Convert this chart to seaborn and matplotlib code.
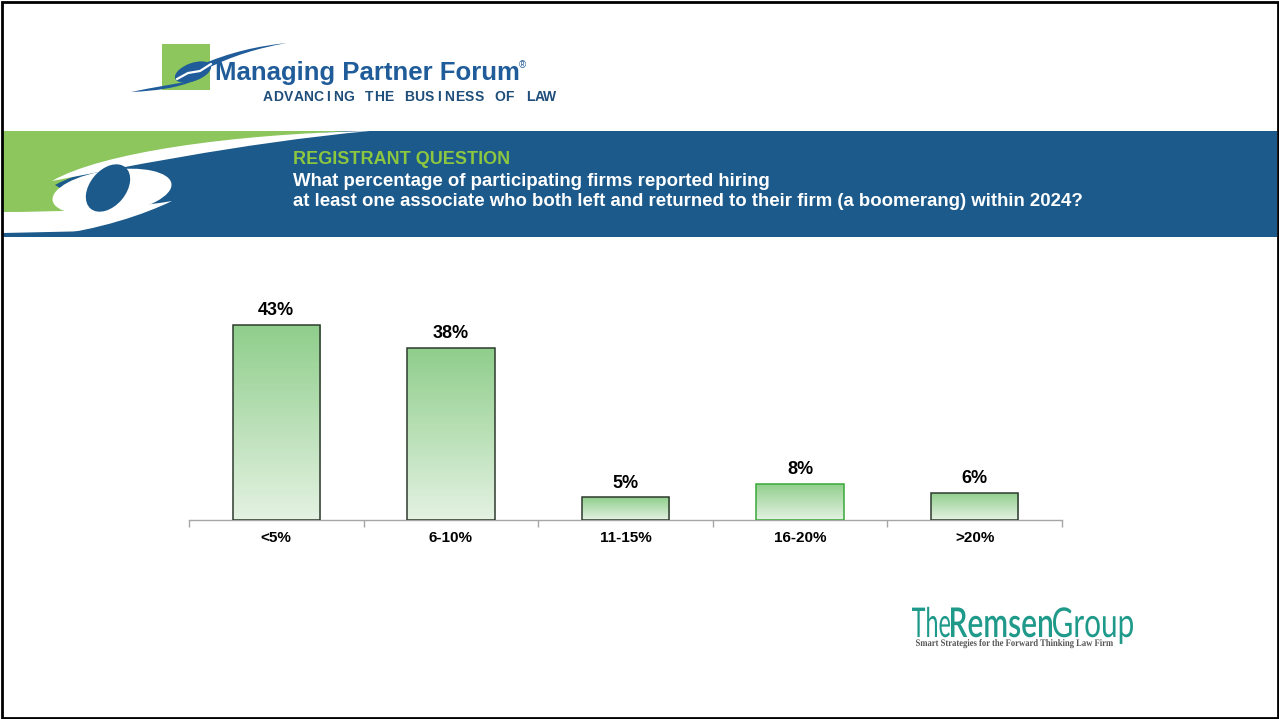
"""Registrant question slide: share of firms hiring boomerang associates in 2024."""

import matplotlib
matplotlib.use("Agg")
import matplotlib.pyplot as plt
import numpy as np
import seaborn as sns
from matplotlib.colors import LinearSegmentedColormap
from matplotlib.font_manager import FontProperties
from matplotlib.patches import Ellipse, PathPatch, Rectangle
from matplotlib.path import Path
from matplotlib.textpath import TextPath
from matplotlib.transforms import Affine2D

# ---- data -------------------------------------------------------------
categories = ["<5%", "6-10%", "11-15%", "16-20%", ">20%"]
values = [43, 38, 5, 8, 6]

header_kicker = "REGISTRANT QUESTION"
question_lines = [
    "What percentage of participating firms reported hiring",
    "at least one associate who both left and returned to their firm (a boomerang) within 2024?",
]

# ---- style ------------------------------------------------------------
sns.set_theme(style="white")
plt.rcParams["font.family"] = ["Liberation Sans", "DejaVu Sans"]

BLUE = "#1b5a8b"
LOGO_BLUE = "#1f5c99"
GREEN = "#8cc65c"
KICKER_GREEN = "#8dc63f"
TEAL = "#1f9a8a"
BAR_CMAP = LinearSegmentedColormap.from_list("bar", ["#e4f2e2", "#8fce8b"])
BAR_EDGES = ["#2f3a2f", "#2f3a2f", "#2f3a2f", "#3aa83a", "#2f3a2f"]

W, H = 1279, 719
fig = plt.figure(figsize=(W / 100, H / 100), dpi=100)

# background layer in pixel coordinates (y down)
bg = fig.add_axes([0, 0, 1, 1], zorder=0)
bg.set_xlim(0, W); bg.set_ylim(H, 0); bg.axis("off")


def curve_patch(verts, codes, color, z=1):
    bg.add_patch(PathPatch(Path(verts, codes), facecolor=color, edgecolor="none", zorder=z))


def path_text(s, x, baseline, size_px, width_px, color, prop, z=3):
    tp = TextPath((0, 0), s, size=1, prop=prop)
    ext = tp.get_extents()
    sx = width_px / ext.width
    tr = Affine2D().scale(sx, -size_px).translate(x - ext.x0 * sx, baseline)
    bg.add_patch(PathPatch(tr.transform_path(tp), facecolor=color, edgecolor="none", zorder=z))


M, L, C, X = Path.MOVETO, Path.LINETO, Path.CURVE4, Path.CLOSEPOLY

# ---- top logo ---------------------------------------------------------
bg.add_patch(Rectangle((162, 44), 48, 46, facecolor=GREEN, edgecolor="none", zorder=1))
curve_patch([(131, 92), (155, 87), (175, 84), (196, 80), (178, 88), (155, 91), (131, 92), (131, 92)],
            [M, C, C, C, C, C, C, X], LOGO_BLUE, 2)
bg.add_patch(Ellipse((193, 72), 38, 18, angle=-20, facecolor=LOGO_BLUE, edgecolor="none", zorder=2))
bg.plot([177, 188, 200, 211], [79, 73, 71, 64], color="white", lw=1.6, zorder=2.5)
curve_patch([(198, 66), (230, 52), (258, 46), (287, 43), (258, 48), (232, 56), (206, 69), (198, 66)],
            [M, C, C, C, C, C, C, X], LOGO_BLUE, 2)
bg.text(215, 80, "Managing Partner Forum", color=LOGO_BLUE, fontsize=18.5,
        fontweight="bold", va="baseline", ha="left", zorder=3)
bg.text(519, 68, "®", color=LOGO_BLUE, fontsize=7, va="baseline", ha="left", zorder=3)
tagline = "ADVANCING THE BUSINESS OF LAW"
step = (550 - 268) / (len(tagline) - 1)
for i, ch in enumerate(tagline):
    bg.text(268 + i * step, 101, ch, color="#1f4e7a", fontsize=10, fontweight="bold",
            ha="center", va="baseline", zorder=3)

# ---- banner -----------------------------------------------------------
bg.add_patch(Rectangle((3, 131), 1274, 106, facecolor=BLUE, edgecolor="none", zorder=1))
curve_patch([(3, 131), (350, 131), (225, 138), (100, 160), (55, 185), (100, 212), (3, 214), (3, 131)],
            [M, L, C, C, C, L, L, X], GREEN, 1.2)
curve_patch([(370, 131), (230, 134), (100, 153), (52, 181), (110, 170), (240, 143), (370, 131), (370, 131)],
            [M, C, C, C, C, C, C, X], "white", 1.4)
bg.add_patch(Ellipse((112, 192), 120, 44, angle=-8, facecolor="white", edgecolor="none", zorder=1.4))
curve_patch([(172, 201), (120, 210), (50, 212), (3, 212), (3, 237), (40, 237), (100, 230),
             (145, 214), (172, 201), (172, 201)],
            [M, C, C, C, L, L, C, C, C, X], "white", 1.4)
bg.add_patch(Ellipse((108, 188), 54, 36, angle=-50, facecolor=BLUE, edgecolor="none", zorder=1.5))
curve_patch([(3, 237), (3, 233), (60, 232), (140, 228), (230, 237), (3, 237)],
            [M, L, C, C, C, X], BLUE, 1.45)

bg.text(293, 160, header_kicker, color=KICKER_GREEN, fontsize=13, fontweight="bold",
        va="center", ha="left", zorder=3)
for i, line in enumerate(question_lines):
    bg.text(293, 181 + 20 * i, line, color="white", fontsize=13.4, fontweight="bold",
            va="center", ha="left", zorder=3)

# ---- bottom-right logo ------------------------------------------------
thin = FontProperties(family=["Lato", "DejaVu Sans"], weight="normal")
bold = FontProperties(family=["Lato", "DejaVu Sans"], weight="semibold")
path_text("The", 912, 637, 41, 38, TEAL, thin)
path_text("Remsen", 951, 637, 41, 101, TEAL, bold)
path_text("Group", 1053, 637, 41, 80, TEAL, thin)
path_text("Smart Strategies for the Forward Thinking Law Firm", 916, 646, 10, 197, "#555555",
          FontProperties(family=["Liberation Serif", "DejaVu Serif"], weight="bold"))

# frame
bg.add_patch(Rectangle((1.5, 1.5), W - 3, H - 3, facecolor="none", edgecolor="black", lw=2, zorder=5))

# ---- bar chart --------------------------------------------------------
ax = fig.add_axes([189 / W, 1 - 520 / H, (1062 - 189) / W, 250 / H], zorder=2)
ax.patch.set_alpha(0)
sns.barplot(x=categories, y=values, width=0.5, color="#8fce8b", ax=ax, zorder=2)

grad = np.linspace(0, 1, 256).reshape(-1, 1)
for patch, v, ec in zip(ax.patches, values, BAR_EDGES):
    x0, w = patch.get_x(), patch.get_width()
    im = ax.imshow(grad, extent=[x0, x0 + w, 0, patch.get_height()], origin="lower",
                   cmap=BAR_CMAP, aspect="auto", zorder=2)
    im.set_clip_path(patch)
    patch.set_facecolor("none")
    patch.set_edgecolor(ec)
    patch.set_linewidth(1.1)
    patch.set_zorder(3)

for i, v in enumerate(values):
    ax.annotate(f"{v}%", (i, v), xytext=(0, 4), textcoords="offset points",
                ha="center", va="bottom", fontsize=13, fontweight="bold", color="black")

ax.set_xlim(-0.5, len(categories) - 0.5)
ax.set_ylim(0, 250 / 4.535)
ax.set_yticks([])
ax.set_xlabel(""); ax.set_ylabel("")
ax.set_xticks(range(len(categories)))
ax.set_xticklabels(categories, fontsize=11, fontweight="bold", color="black")
ax.set_xticks(np.arange(-0.5, len(categories), 1), minor=True)
ax.tick_params(axis="x", which="major", bottom=False, length=0, pad=8)
ax.tick_params(axis="x", which="minor", bottom=True, length=5, width=1, color="#a6a6a6",
               direction="out")
for side in ("top", "left", "right"):
    ax.spines[side].set_visible(False)
ax.spines["bottom"].set_color("#a6a6a6")
ax.spines["bottom"].set_linewidth(1)

fig.savefig("out.png", dpi=100, facecolor="white")
